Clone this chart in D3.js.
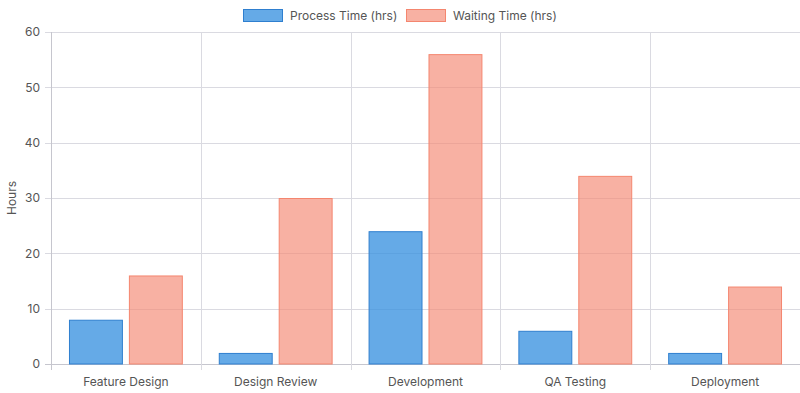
<!DOCTYPE html>
<html>
<head>
<meta charset="utf-8">
<script src="https://cdn.jsdelivr.net/npm/d3@7"></script>
<style>
  body { margin: 0; background: #fff; }
  text { font-family: Inter, "Noto Sans", sans-serif; }
</style>
</head>
<body>
<div id="chart_area"></div>
<script>
// Data.
var stages = ["Feature Design", "Design Review", "Development", "QA Testing", "Deployment"];
var processTime = [8, 2, 24, 6, 2];
var waitingTime = [16, 30, 56, 34, 14];
var seriesNames = ["Process Time (hrs)", "Waiting Time (hrs)"];
var yTicks = [0, 10, 20, 30, 40, 50, 60];

var fills = ["rgba(54,145,224,0.77)", "rgba(245,140,120,0.68)"];
var strokes = ["#2f7fcf", "#f4866f"];

var frame_width = 800, frame_height = 393;
var margin = {top: 32, right: 0, bottom: 29, left: 51};
var canvas_width = frame_width - margin.left - margin.right;
var canvas_height = frame_height - margin.top - margin.bottom;

var frame = d3.select("#chart_area").append("svg")
  .attr("width", frame_width)
  .attr("height", frame_height);
var canvas = frame.append("g")
  .attr("transform", "translate(" + margin.left + "," + margin.top + ")");

var xScale = d3.scaleBand().domain(stages).range([0, canvas_width]);
var yScale = d3.scaleLinear().domain([0, 60]).range([canvas_height, 0]);
// chart.js-like defaults: category 0.8, bar 0.9
var inner = d3.scaleBand().domain([0, 1])
  .range([xScale.bandwidth() * 0.1, xScale.bandwidth() * 0.9]);
var barW = inner.bandwidth() * 0.9;

// horizontal grid + ticks
canvas.selectAll(".hgrid").data(yTicks).enter().append("line")
  .attr("x1", -6).attr("x2", canvas_width)
  .attr("y1", function(d) { return Math.round(yScale(d)) + 0.5; })
  .attr("y2", function(d) { return Math.round(yScale(d)) + 0.5; })
  .attr("stroke", function(d) { return d === 0 ? "#c6c6ce" : "#dadae1"; })
  .attr("stroke-width", 1);

canvas.selectAll(".ylab").data(yTicks).enter().append("text")
  .attr("x", -11).attr("y", function(d) { return yScale(d); })
  .attr("dy", "0.35em")
  .attr("text-anchor", "end")
  .attr("font-size", 12)
  .attr("fill", "#555")
  .text(function(d) { return d; });

// vertical grid at category boundaries
var bounds = stages.map(function(s) { return xScale(s); });
canvas.selectAll(".vgrid").data(bounds).enter().append("line")
  .attr("x1", function(d) { return Math.round(d) + 0.5; })
  .attr("x2", function(d) { return Math.round(d) + 0.5; })
  .attr("y1", 0).attr("y2", canvas_height + 6)
  .attr("stroke", function(d, i) { return i === 0 ? "#c6c6ce" : "#dadae1"; });

// bars
var series = [processTime, waitingTime];
series.forEach(function(vals, si) {
  canvas.selectAll(".bar" + si).data(vals).enter().append("rect")
    .attr("x", function(d, i) {
      return xScale(stages[i]) + inner(si) + (inner.bandwidth() - barW) / 2 + 0.5;
    })
    .attr("y", function(d) { return yScale(d) + 0.5; })
    .attr("width", barW - 1)
    .attr("height", function(d) { return yScale(0) - yScale(d) - 0.5; })
    .attr("fill", fills[si])
    .attr("stroke", strokes[si])
    .attr("stroke-width", 1);
});

// x labels
canvas.selectAll(".xlab").data(stages).enter().append("text")
  .attr("x", function(d) { return xScale(d) + xScale.bandwidth() / 2; })
  .attr("y", canvas_height + 22)
  .attr("text-anchor", "middle")
  .attr("font-size", 12)
  .attr("fill", "#555")
  .text(function(d) { return d; });

// y title
frame.append("text")
  .attr("transform", "translate(16," + (margin.top + canvas_height / 2) + ") rotate(-90)")
  .attr("text-anchor", "middle")
  .attr("font-size", 12)
  .attr("fill", "#555")
  .text("Hours");

// legend
var legend = frame.append("g");
var lx = [243, 406];
seriesNames.forEach(function(name, i) {
  legend.append("rect")
    .attr("x", lx[i] + 0.5).attr("y", 9.5)
    .attr("width", 39).attr("height", 12)
    .attr("fill", fills[i]).attr("stroke", strokes[i]);
  legend.append("text")
    .attr("x", lx[i] + 47).attr("y", 16)
    .attr("dy", "0.35em")
    .attr("font-size", 12)
    .attr("fill", "#555")
    .text(name);
});
</script>
</body>
</html>
